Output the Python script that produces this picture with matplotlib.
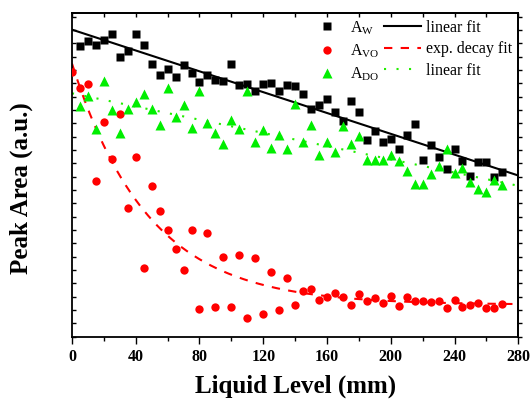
import numpy as np
import matplotlib
matplotlib.use('Agg')
import matplotlib.pyplot as plt
from matplotlib.lines import Line2D
from matplotlib.ticker import MultipleLocator, NullFormatter

plt.rcParams['font.family'] = ['Liberation Serif', 'DejaVu Serif']
plt.rcParams['mathtext.fontset'] = 'custom'
plt.rcParams['mathtext.rm'] = 'Liberation Serif'

# liquid level (mm)
level = [5, 10, 15, 20, 25, 30, 35, 40, 45, 50, 55, 60, 65, 70, 75, 80, 85, 90,
         95, 100, 105, 110, 115, 120, 125, 130, 135, 140, 145, 150, 155, 160,
         165, 170, 175, 180, 185, 190, 195, 200, 205, 210, 215, 220, 225, 230,
         235, 240, 245, 250, 255, 260, 265, 270]
level_vo = [0] + level

# peak areas (a.u.)
a_w = [291, 296, 292, 297, 303, 280, 286, 303, 292, 273, 262, 268, 260, 272,
       264, 255, 262, 257, 256, 273, 252, 253, 246, 253, 254, 246, 252, 251,
       243, 228, 232, 238, 225, 216, 236, 225, 197, 206, 195, 198, 188, 202,
       213, 177, 192, 180, 168, 188, 176, 161, 175, 175, 160, 165]
a_vo = [265, 249, 253, 156, 215, 178, 223, 129, 180, 69, 151, 126, 107, 88,
        67, 107, 28, 104, 30, 80, 30, 82, 19, 79, 23, 65, 27, 59, 32, 46, 48,
        37, 40, 44, 40, 32, 43, 36, 39, 34, 41, 31, 40, 36, 36, 35, 36, 29,
        37, 30, 32, 34, 29, 29, 33]
a_do = [231, 241, 208, 256, 227, 204, 228, 235, 243, 228, 212, 249, 220, 232,
        209, 246, 214, 204, 193, 217, 208, 246, 195, 207, 189, 202, 188, 233,
        195, 212, 182, 195, 185, 211, 193, 201, 177, 177, 177, 182, 176, 166,
        153, 153, 163, 171, 188, 164, 169, 155, 148, 145, 157, 152]

# fit parameters
w_fit = (306.9, -0.5205)        # intercept, slope
do_fit = (243.3, -0.330)
vo_fit = (32.0, 241.0, 48.0)    # offset, amplitude, decay length


def main():
    fig = plt.figure(figsize=(5.3, 4.0), dpi=100)
    ax = fig.add_axes([0.1358, 0.158, 0.8421, 0.8107])

    xf = np.linspace(0, 280, 300)
    ax.plot(xf, w_fit[0] + w_fit[1] * xf, color='black', lw=1.5, zorder=2)
    ax.plot(xf, vo_fit[0] + vo_fit[1] * np.exp(-xf / vo_fit[2]),
            color='red', lw=1.5, ls=(0, (4, 4)), zorder=2)
    ax.plot(xf, do_fit[0] + do_fit[1] * xf, color='#22ee00', lw=1.5,
            ls=(0, (1, 5)), zorder=2)

    ax.plot(level, a_w, 's', color='black', ms=5.5, mec='none', zorder=3)
    ax.plot(level_vo, a_vo, 'o', color='red', ms=6, mec='none', zorder=3)
    ax.plot(level, a_do, '^', color='#00ee00', ms=7, mec='none', zorder=3)

    ax.set_xlim(0, 280)
    ax.set_ylim(0, 324)
    ax.xaxis.set_major_locator(MultipleLocator(40))
    ax.xaxis.set_minor_locator(MultipleLocator(20))
    ax.yaxis.set_major_locator(MultipleLocator(40 / 3))
    ax.yaxis.set_major_formatter(NullFormatter())
    ax.tick_params(axis='x', which='major', direction='out', length=5,
                   width=1, labelsize=11.5, pad=4)
    ax.tick_params(axis='x', which='minor', direction='out', length=3, width=1)
    ax.tick_params(axis='y', direction='in', length=3, width=1)
    for lab in ax.get_xticklabels():
        lab.set_fontweight('bold')

    top = ax.secondary_xaxis('top')
    top.xaxis.set_major_locator(MultipleLocator(40))
    top.xaxis.set_minor_locator(MultipleLocator(20))
    top.tick_params(which='both', direction='in', length=3, width=1)
    top.xaxis.set_major_formatter(NullFormatter())
    right = ax.secondary_yaxis('right')
    right.yaxis.set_major_locator(MultipleLocator(40 / 3))
    right.tick_params(direction='out', length=3, width=1)
    right.yaxis.set_major_formatter(NullFormatter())

    for sp in list(ax.spines.values()) + [top.spines['top'], right.spines['right']]:
        sp.set_linewidth(1.3)

    ax.set_xlabel('Liquid Level (mm)', fontsize=18, fontweight='bold',
                  labelpad=7)
    ax.set_ylabel('Peak Area (a.u.)', fontsize=18, fontweight='bold')
    ax.yaxis.set_label_coords(-0.087, 0.46)

    handles = [
        Line2D([], [], ls='none', marker='s', color='black', ms=5.5, mec='none'),
        Line2D([], [], ls='none', marker='o', color='red', ms=6, mec='none'),
        Line2D([], [], ls='none', marker='^', color='#00ee00', ms=7, mec='none'),
        Line2D([], [], color='black', lw=1.5),
        Line2D([], [], color='red', lw=1.5, ls=(0, (4, 4))),
        Line2D([], [], color='#22ee00', lw=1.5, ls=(0, (1, 5))),
    ]
    labels = [r'A$_{\rm W}$', r'A$_{\rm VO}$', r'A$_{\rm DO}$',
              'linear fit', 'exp. decay fit', 'linear fit']
    ax.legend(handles, labels, ncol=2, frameon=False, fontsize=11.5,
              loc='upper right', bbox_to_anchor=(1.011, 1.015),
              handlelength=2.3, handletextpad=0.3, columnspacing=0.3,
              labelspacing=0.35, borderaxespad=0.3)

    fig.savefig('out.png', dpi=100)


if __name__ == '__main__':
    main()
